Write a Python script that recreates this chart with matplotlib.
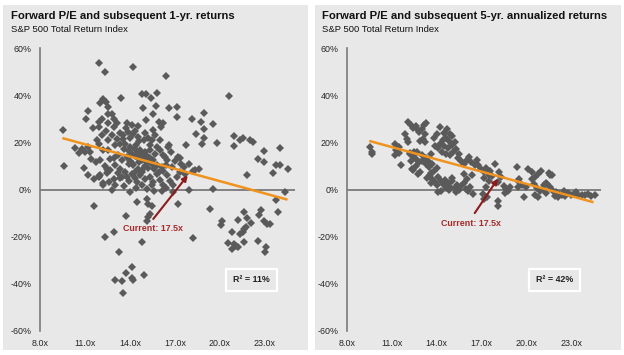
import matplotlib
matplotlib.use("Agg")
import matplotlib.pyplot as plt
from matplotlib.patches import Rectangle

plt.rcParams['font.family'] = ['Liberation Sans', 'DejaVu Sans']

# ---------------- data ----------------
pts_1yr = [
    (11.9, 53.5), (12.3, 49.7), (14.2, 52.0), (16.4, 48.0), (20.6, 39.7),
    (9.5, 25.4), (9.6, 9.8),
    (13.4, 38.9), (14.8, 40.6), (15.05, 40.4), (15.8, 41.1), (15.4, 38.6),
    (12.2, 38.2), (12.4, 37.2), (12.0, 36.5), (12.55, 34.8), (12.5, 32.2), (12.8, 32.2),
    (14.85, 34.6), (15.7, 35.4), (15.5, 31.9), (15.05, 29.4),
    (11.2, 33.2), (11.05, 30.1), (12.1, 30.1), (12.95, 29.7),
    (13.1, 28.0), (12.95, 26.3), (12.55, 28.0), (12.4, 24.8), (11.9, 28.6), (11.5, 26.2), (11.9, 26.5),
    (15.9, 28.6), (16.2, 28.0), (16.05, 26.5),
    (16.6, 34.5), (17.1, 34.8), (17.1, 30.6), (18.1, 30.0), (18.9, 32.5), (18.7, 28.5), (18.9, 25.5),
    (19.5, 27.8), (18.4, 23.7), (18.9, 22.0), (18.8, 19.1), (19.8, 19.7), (17.7, 18.9),
    (20.95, 22.5), (20.9, 18.3), (21.3, 20.9), (21.5, 21.7), (22.0, 20.9), (22.2, 20.0),
    (22.95, 16.3), (24.0, 17.7), (22.5, 13.0), (22.9, 11.6), (23.7, 10.2), (24.0, 10.5), (24.5, 8.9),
    (23.5, 7.1), (21.8, 6.2),
    (16.5, 18.0), (16.6, 19.0), (17.2, 13.7), (17.3, 13.3), (17.4, 10.9), (18.6, 8.9), (18.3, 8.1), (16.45, 12.3),
    (13.8, 28.0), (14.15, 27.2), (14.33, 25.0), (13.85, 24.4), (13.55, 23.0), (14.55, 22.3), (14.9, 20.9),
    (15.2, 22.0), (15.55, 25.1), (15.67, 23.0), (15.45, 20.9), (16.0, 21.1), (13.1, 21.6), (13.33, 19.4),
    (13.0, 18.7), (13.67, 19.4), (14.0, 18.0), (14.33, 17.3), (14.67, 16.6), (15.0, 15.9), (15.33, 16.6),
    (15.67, 15.2), (16.0, 16.6), (16.33, 13.7), (14.45, 13.7), (14.8, 12.3), (15.1, 11.6), (15.45, 10.9),
    (15.8, 10.2), (16.1, 9.5), (14.2, 10.2), (14.55, 8.8), (14.33, 7.4), (14.8, 8.1),
    (11.2, 18.0), (11.33, 15.9), (11.78, 20.9), (11.9, 19.1), (12.2, 16.6), (12.55, 16.9), (12.67, 13.1),
    (12.9, 13.5), (13.2, 14.5), (13.45, 12.3), (13.8, 13.7), (13.9, 10.9), (12.45, 8.8), (12.67, 8.1),
    (13.3, 8.8), (13.67, 7.4), (12.1, 23.0), (12.8, 23.0), (12.55, 20.9),
    (12.0, 6.0), (12.45, 6.9), (12.9, 4.5), (13.0, 1.7), (13.33, 5.0), (14.1, 6.7), (14.33, 5.0),
    (14.45, 3.1), (14.67, 6.0), (14.8, 1.7), (15.0, 4.5), (15.1, 0.3), (15.33, 5.5), (15.55, 3.1),
    (15.8, 6.7), (16.0, 4.1), (16.2, 2.1), (16.45, 6.0), (16.67, 3.8), (16.9, 1.7), (17.1, 5.5),
    (17.33, 7.4), (17.67, 6.4), (18.2, 7.7),
    (14.1, 15.0), (14.3, 14.2), (14.5, 15.5), (14.7, 14.5), (14.9, 13.0), (15.1, 14.0), (15.3, 13.2),
    (15.5, 12.5), (14.0, 12.0), (14.2, 11.0), (14.6, 11.5), (15.0, 10.0), (15.2, 9.0), (15.6, 8.5),
    (15.9, 7.5), (16.2, 8.0), (16.4, 10.5), (16.8, 9.5), (13.9, 16.5), (13.6, 17.0), (14.4, 19.0),
    (14.6, 20.5), (13.5, 21.5), (13.3, 24.0), (14.0, 22.0), (14.2, 23.5), (13.7, 26.0), (14.5, 27.0),
    (15.0, 24.0), (15.3, 19.0), (15.8, 18.0), (16.2, 14.5), (16.7, 16.0), (17.0, 12.0), (17.6, 9.5),
    (17.9, 11.0), (13.9, 3.5), (14.4, 0.8), (14.0, -1.0), (15.6, -0.5), (16.4, 0.5), (16.9, -1.2),
    (13.6, 1.5), (12.6, 3.0), (12.2, 2.8), (11.6, 4.5), (11.2, 6.0), (10.9, 9.0), (10.6, 15.5),
    (10.3, 17.5), (10.8, 17.0), (11.0, 16.0), (11.4, 13.0), (11.7, 11.5), (12.0, 12.5), (12.3, 10.0),
    (13.0, 10.5), (13.2, 7.0), (13.8, 5.5), (14.8, 7.5),
    (11.9, 5.2), (12.2, 1.7), (12.8, -0.4), (12.55, 7.7), (13.45, 5.2), (11.95, 5.7),
    (11.6, -7.0), (13.7, -11.4), (14.45, -5.4), (15.1, -4.0), (15.2, -6.1), (15.45, -6.8),
    (15.3, -10.3), (15.2, -11.8), (15.1, -13.2), (14.8, -22.1), (12.95, -18.2), (12.33, -20.3),
    (13.27, -26.4), (14.1, -33.0), (13.7, -35.5), (14.9, -36.3), (13.0, -38.3), (13.45, -38.7),
    (14.15, -37.6), (14.2, -38.4), (13.55, -43.7),
    (15.45, 1.7), (16.1, -0.7), (17.9, 0.0), (19.5, 0.3),
    (17.2, -6.1), (19.3, -8.2), (18.2, -20.7),
    (24.3, -1.1), (23.7, -4.4), (23.85, -9.4), (20.1, -13.2), (20.07, -15.0), (21.2, -12.9),
    (21.6, -9.6), (21.8, -12.2), (22.07, -14.2), (22.7, -8.6), (22.6, -10.8), (22.95, -13.2),
    (23.1, -14.6), (23.3, -14.6), (20.8, -18.2), (21.5, -18.2), (21.6, -16.7), (21.3, -18.9),
    (21.7, -16.0), (20.55, -22.7), (20.9, -22.9), (20.8, -25.2), (21.05, -23.8), (21.2, -24.3),
    (21.6, -22.1), (22.55, -21.7), (23.07, -24.3), (23.0, -26.7),
]

pts_5yr = [
    (9.54, 18.0), (9.65, 15.9), (9.7, 14.9),
    (11.2, 19.4), (11.45, 18.2), (11.3, 16.6), (11.5, 15.6), (11.2, 14.5), (11.6, 10.2),
    (11.9, 23.7), (12.0, 21.5), (12.05, 20.0),
    (12.1, 28.6), (12.3, 27.5), (12.45, 26.2), (12.6, 27.0), (12.7, 25.5), (12.85, 24.5),
    (13.0, 25.8), (13.15, 27.2), (13.3, 28.1), (13.2, 23.5), (13.1, 21.5), (12.9, 20.5), (13.2, 20.0),
    (12.2, 15.5), (12.4, 14.0), (12.5, 16.0), (12.65, 13.0), (12.3, 12.0), (12.8, 11.5),
    (13.0, 14.8), (13.3, 13.5), (13.45, 12.0), (13.6, 15.0), (13.7, 11.0), (12.35, 8.8),
    (12.75, 6.5), (12.9, 7.3), (12.4, 8.1),
    (12.2, 15.0), (12.7, 16.0), (13.0, 12.0), (13.3, 11.0), (13.5, 9.5), (13.8, 8.0), (14.0, 9.0),
    (13.6, 7.0), (12.6, 10.0),
    (14.24, 26.5), (14.5, 24.0), (14.7, 25.5), (14.9, 23.5), (14.6, 22.0), (14.8, 20.5), (15.0, 22.5),
    (14.4, 21.0), (14.2, 19.5), (14.5, 18.5), (14.75, 17.5), (15.0, 18.8), (15.2, 20.0), (15.3, 17.0),
    (14.35, 16.0), (14.6, 15.2), (14.9, 14.5), (15.1, 15.8), (15.4, 13.5), (15.6, 12.2), (15.8, 11.0),
    (16.0, 12.5), (16.3, 11.5), (16.6, 10.5), (16.15, 13.8), (15.5, 15.0), (14.1, 17.5), (13.9, 18.5),
    (13.8, 22.0), (14.0, 23.5),
    (16.7, 12.3), (16.8, 10.2), (17.9, 10.9), (17.0, 8.5), (17.3, 9.2), (17.6, 8.0), (17.2, 7.3),
    (17.5, 6.3), (19.35, 9.5), (20.1, 8.5), (20.8, 6.7), (21.7, 6.2), (21.3, 2.8), (20.4, 7.6),
    (20.6, 5.2), (21.0, 7.9), (21.5, 7.2),
    (13.35, 5.0), (13.7, 4.6), (13.6, 2.7), (14.1, 5.2), (14.05, 1.7), (14.1, -1.1), (14.3, 3.5),
    (14.45, 2.2), (14.6, 0.8), (14.75, 2.8), (14.9, 1.2), (15.05, 3.5), (15.2, 0.5), (15.35, 2.0),
    (15.5, -0.3), (15.65, 1.5), (15.8, 2.8), (15.95, 0.3), (16.1, -0.8), (16.25, 1.2), (16.4, -1.8),
    (14.3, -0.5), (14.8, -0.2), (15.3, -1.0), (13.9, 3.2), (14.55, 4.2), (15.0, 5.0), (13.55, 6.3),
    (15.8, 6.7), (16.38, 6.0), (16.0, 4.5),
    (17.1, -1.8), (17.2, -4.0), (17.4, -3.3), (18.1, -4.7), (18.1, -6.8), (17.3, 1.0), (17.5, 3.5),
    (17.7, 5.8), (17.2, 4.8), (18.2, 7.4), (18.3, 5.2), (18.1, 3.1), (18.5, 1.5), (18.65, 0.3),
    (18.8, -0.8), (18.9, 1.2), (18.55, -1.5), (19.5, 4.5), (19.46, 3.8), (19.46, 1.0), (19.85, -3.0),
    (19.7, 1.8), (20.0, 1.2),
    (20.4, 4.5), (20.5, 2.5), (20.7, 0.8), (20.6, -2.5), (20.8, -3.2), (20.95, -0.8), (21.1, 0.2),
    (21.2, 1.8), (21.4, 2.5), (21.6, 0.9), (21.3, -1.5), (21.8, -0.5), (22.0, -1.2), (22.2, -1.8),
    (22.4, -2.2), (22.6, -2.6), (22.8, -1.6), (23.0, -2.3), (23.2, -2.0), (23.45, -2.5), (23.7, -2.2),
    (23.9, -2.4), (24.1, -1.9), (24.35, -2.6), (22.1, -3.1), (21.9, -2.6), (21.6, 6.0), (22.5, -0.8),
    (23.3, -1.2), (24.6, -2.3),
]

trend_x = [9.49, 24.5]
trend_1yr = [21.8, -4.3]
trend_5yr = [20.6, -5.4]

x_ticks = [8.0, 11.0, 14.0, 17.0, 20.0, 23.0]
y_ticks = [-60, -40, -20, 0, 20, 40, 60]

titles = ["Forward P/E and subsequent 1-yr. returns",
          "Forward P/E and subsequent 5-yr. annualized returns"]
subtitle = "S&P 500 Total Return Index"
r2_labels = ["R\u00b2 = 11%", "R\u00b2 = 42%"]
current_label = "Current: 17.5x"

# arrow (tail, head) and label / box positions in data coords
arrow_specs = [((15.55, -12.5), (17.85, 6.0)), ((16.55, -10.0), (18.1, 4.6))]
current_text_pos = [(15.55, -16.7), (16.3, -14.3)]
r2_pos = [(22.1, -38.3), (21.9, -38.3)]

# ---------------- drawing ----------------
W, H = 624, 355
fig = plt.figure(figsize=(W / 100, H / 100), dpi=100)
fig.patch.set_facecolor('white')

bg = '#e8e8e8'
for (x0, x1) in [(3, 308), (315, 621)]:
    fig.patches.append(Rectangle((x0 / W, 1 - 350 / H), (x1 - x0) / W, (350 - 5) / H,
                                 transform=fig.transFigure, facecolor=bg, edgecolor='none', zorder=-5))

axes_px = [(40, 295), (347, 601)]
title_x = [11, 322]
datasets = [pts_1yr, pts_5yr]
trends = [trend_1yr, trend_5yr]

for i in range(2):
    x0, x1 = axes_px[i]
    ax = fig.add_axes([x0 / W, (H - 331) / H, (x1 - x0) / W, (331 - 48) / H])
    ax.set_zorder(2)
    ax.set_facecolor('none')
    ax.set_xlim(8, 25)
    ax.set_ylim(-60, 60)
    for s in ['top', 'right', 'bottom']:
        ax.spines[s].set_visible(False)
    ax.spines['left'].set_color('#7a7a7a')
    ax.spines['left'].set_linewidth(1.2)
    ax.axhline(0, color='#7a7a7a', lw=1.3, zorder=1)
    ax.set_xticks(x_ticks)
    ax.set_xticklabels([f"{v:.1f}x" for v in x_ticks])
    ax.set_yticks(y_ticks)
    ax.set_yticklabels([f"{v}%" for v in y_ticks])
    ax.tick_params(axis='x', length=0, pad=6, labelsize=6.4, colors='#262626')
    ax.tick_params(axis='y', length=0, pad=6, labelsize=6.4, colors='#262626')

    xs = [p[0] for p in datasets[i]]
    ys = [p[1] for p in datasets[i]]
    ax.plot(xs, ys, linestyle='none', marker='D', ms=3.6, color='#5a5a5a',
            markeredgewidth=0, zorder=2)
    ax.plot(trend_x, trends[i], color='#f0921e', lw=1.8, zorder=3, solid_capstyle='butt')

    (tx, ty), (hx, hy) = arrow_specs[i]
    ax.annotate('', xy=(hx, hy), xytext=(tx, ty),
                arrowprops=dict(arrowstyle='-|>', color='#8c1c1c', lw=1.5,
                                mutation_scale=8, shrinkA=0, shrinkB=0), zorder=4)
    cx, cy = current_text_pos[i]
    ax.text(cx, cy, current_label, color='#a52a2a', fontsize=6.4, fontweight='bold',
            ha='center', va='center', zorder=4)
    rx, ry = r2_pos[i]
    ax.text(rx, ry, r2_labels[i], color='#222222', fontsize=6.4, fontweight='bold',
            ha='center', va='center', zorder=4,
            bbox=dict(boxstyle='square,pad=0.75', facecolor=bg, edgecolor='white', linewidth=1.6))

    fig.text(title_x[i] / W, 1 - 16 / H, titles[i], fontsize=8.1, fontweight='bold',
             color='#111111', ha='left', va='center', zorder=3)
    fig.text(title_x[i] / W, 1 - 29 / H, subtitle, fontsize=6.8,
             color='#111111', ha='left', va='center', zorder=3)

fig.savefig('out.png', dpi=100, facecolor='white')
